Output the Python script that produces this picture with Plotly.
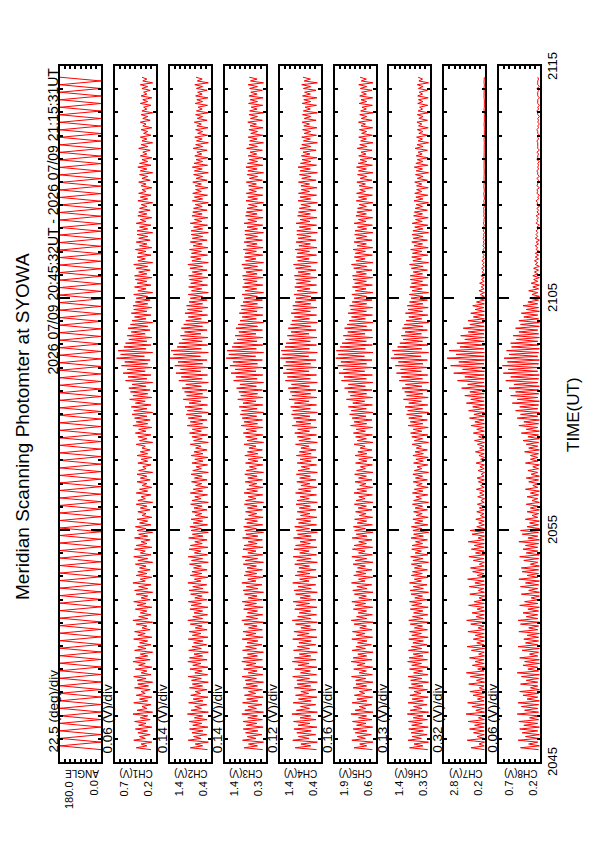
import numpy as np
import plotly.graph_objects as go

# ---------------- data ----------------
# time axis: minutes after 20:45 UT; record 20:45:32 - 21:15:31 UT
t_start_min = 32 / 60
t_end_min = 30 - 29 / 60

time_tick_vals = [0, 10, 20, 30]
time_tick_text = ["2045", "2055", "2105", "2115"]

panel_names = ["ANGLE", "CH1(V)", "CH2(V)", "CH3(V)", "CH4(V)", "CH5(V)", "CH6(V)", "CH7(V)", "CH8(V)"]
scale_labels = ["22.5 (deg)/div", "0.06 (V)/div", "0.14 (V)/div", "0.14 (V)/div", "0.12 (V)/div",
                "0.16 (V)/div", "0.13 (V)/div", "0.32 (V)/div", "0.06 (V)/div"]
range_max = [180.0, 0.7, 1.4, 1.4, 1.4, 1.9, 1.4, 2.8, 0.7]
range_min = [0.0, 0.2, 0.4, 0.3, 0.4, 0.6, 0.3, 0.2, 0.2]
range_max_text = ["180.0", "0.7", "1.4", "1.4", "1.4", "1.9", "1.4", "2.8", "0.7"]
range_min_text = ["0.0", "0.2", "0.4", "0.3", "0.4", "0.6", "0.3", "0.2", "0.2"]

# scan angle (deg), one value per half scan
ang_deg = [0, 180, 0, 180, 0, 180, 0, 180, 0, 180, 0, 180, 0, 180, 0, 180, 0, 180, 0, 180,
           0, 180, 0, 180, 0, 180, 0, 180, 0, 180, 0, 180, 0, 180, 0, 180, 0, 180, 0, 180,
           0, 180, 0, 180, 0, 180, 0, 180, 0, 180, 0, 180, 0, 180, 0, 180, 0, 180, 0, 180,
           0, 180, 0, 180, 0, 180, 0, 180, 0, 180, 0, 180, 0, 180, 0, 180, 0, 180, 0, 180,
           0, 180, 0, 180, 0, 180, 0, 180, 0, 180, 0, 180, 0, 180, 0, 180, 0, 180, 0, 180,
           0, 180, 0, 180, 0, 180, 0, 180, 0, 180, 0, 180, 0, 180, 0, 180, 0, 180, 0, 180,
           0, 180, 0, 180, 0, 180, 0, 180, 0, 180, 0, 180, 0, 180, 0, 180, 0, 180, 0, 180,
           0, 180, 0, 180, 0, 180, 0, 180, 0, 180, 0, 180, 0, 180, 0, 180, 0, 180, 0, 180,
           0, 180, 0, 180, 0, 180, 0, 180, 0, 180, 0, 180, 0, 180, 0, 180, 0, 180, 0, 180]

# photometer channels in centivolts (12 samples per minute, one row per minute)
ch1_cv = [26,44,31,38,25,47,33,40,27,42,30,45, 25,41,32,46,27,39,30,48,24,43,31,37,
          26,47,30,40,25,44,33,38,27,46,29,42, 24,43,32,47,26,38,31,45,25,41,33,48,
          27,45,30,39,24,46,32,42,26,40,30,47, 25,42,33,46,27,37,31,44,24,48,30,41,
          26,39,31,45,25,43,32,47,27,38,30,44, 24,46,30,41,26,48,33,39,25,44,31,42,
          27,40,32,45,24,42,30,47,26,39,33,46, 25,44,31,38,27,46,30,41,24,43,32,45,
          26,40,30,43,25,37,32,42,27,39,31,44, 24,42,33,38,26,44,30,40,25,37,31,43,
          27,39,31,43,24,41,32,36,26,42,30,38, 25,43,30,39,27,37,33,44,24,40,31,42,
          26,45,32,41,25,48,30,44,27,46,31,49, 24,47,31,50,26,45,33,52,25,48,30,51,
          27,53,32,49,24,57,31,54,26,60,33,55, 25,62,30,58,27,68,34,63,24,66,32,59,
          26,57,31,53,25,55,33,50,27,54,30,51, 24,49,32,46,26,50,31,47,25,48,30,45,
          27,44,30,47,24,42,32,46,26,43,31,45, 25,46,31,41,27,44,30,47,24,42,33,43,
          26,42,32,45,25,40,31,44,27,41,30,43, 24,43,30,40,26,44,32,39,25,42,31,41,
          27,40,31,38,24,42,30,39,26,41,32,37, 25,38,32,41,27,37,30,40,24,39,31,42,
          26,40,30,37,25,39,31,36,27,41,30,38, 24,37,31,39,26,35,30,38,25,36,32,39,
          27,36,30,38,24,37,31,35,26,39,30,36, 25,38,31,35,27,37,30,39,24,36,31,37]

ch2_cv = [48,90,60,78,46,95,64,82,50,86,59,92, 47,84,62,93,49,80,60,97,46,88,63,79,
          50,94,59,83,47,89,65,78,49,92,60,85, 46,87,63,95,48,79,61,91,47,84,64,96,
          49,92,60,81,46,94,63,86,50,82,59,95, 47,85,64,93,49,78,61,90,46,96,60,84,
          48,81,60,91,47,88,63,95,49,79,61,89, 46,93,59,84,50,96,64,80,47,90,62,86,
          49,82,63,92,46,87,60,95,48,80,64,93, 47,90,61,79,49,94,59,85,46,88,63,91,
          48,83,60,88,47,78,62,86,49,81,61,89, 46,86,64,79,48,90,60,83,47,77,62,87,
          49,80,61,88,46,84,63,76,48,86,59,79, 47,88,59,81,49,77,64,90,46,82,61,86,
          48,92,63,85,47,98,60,90,49,95,62,100, 46,97,61,103,48,93,64,107,47,99,60,104,
          49,110,63,101,46,118,61,112,48,125,64,114, 47,128,60,120,49,140,65,131,46,137,63,122,
          48,118,61,109,47,114,64,104,49,112,60,106, 46,101,63,95,48,103,61,97,47,99,60,93,
          49,90,60,95,46,87,62,94,48,89,61,92, 47,94,61,85,49,91,60,96,46,86,64,89,
          48,87,63,92,47,83,61,90,49,85,60,88, 46,88,60,82,48,90,62,80,47,86,61,84,
          49,82,61,78,46,85,60,80,48,84,63,77, 47,78,63,84,49,76,60,82,46,80,61,85,
          48,81,60,76,47,79,62,74,49,83,60,77, 46,75,61,79,48,72,60,77,47,74,63,80,
          49,73,60,77,46,75,61,71,48,78,60,74, 47,77,61,72,49,75,60,79,46,73,61,76]

ch3_cv = [38,88,52,76,36,92,56,80,40,84,51,90, 37,82,54,91,39,78,52,94,36,86,55,77,
          40,92,51,81,37,87,57,76,39,90,52,83, 36,85,55,93,38,77,53,89,37,82,56,94,
          39,90,52,79,36,92,55,84,40,80,51,93, 37,83,56,91,39,76,53,88,36,94,52,82,
          38,79,52,89,37,86,55,93,39,77,53,87, 36,91,51,82,40,94,56,78,37,88,54,84,
          39,80,55,90,36,85,52,93,38,78,56,91, 37,88,53,77,39,92,51,83,36,86,55,89,
          38,81,52,86,37,76,54,84,39,79,53,87, 36,84,56,77,38,88,52,81,37,75,54,85,
          39,78,53,86,36,82,55,74,38,84,51,77, 37,86,51,79,39,75,56,88,36,80,53,84,
          38,90,55,83,37,96,52,88,39,93,54,98, 36,95,53,101,38,91,56,105,37,97,52,102,
          39,108,55,99,36,116,53,110,38,123,56,112, 37,126,52,118,39,136,57,129,36,134,55,120,
          38,116,53,107,37,112,56,102,39,110,52,104, 36,99,55,93,38,101,53,95,37,97,52,91,
          39,88,52,93,36,85,54,92,38,87,53,90, 37,92,53,83,39,89,52,94,36,84,56,87,
          38,85,55,90,37,81,53,88,39,83,52,86, 36,86,52,80,38,88,54,78,37,84,53,82,
          39,80,53,76,36,83,52,78,38,82,55,75, 37,76,55,82,39,74,52,80,36,78,53,83,
          38,79,52,74,37,77,54,72,39,81,52,75, 36,73,53,77,38,70,52,75,37,72,55,78,
          39,71,52,75,36,73,53,69,38,76,52,72, 37,75,53,70,39,73,52,77,36,71,53,74]

ch4_cv = [50,102,64,88,48,108,68,94,52,98,63,105, 49,95,66,106,51,90,64,110,48,99,67,89,
          52,107,63,94,49,101,69,88,51,104,64,97, 48,98,67,108,50,89,65,103,49,95,68,109,
          51,104,64,92,48,106,67,97,52,93,63,108, 49,97,68,105,51,88,65,101,48,109,64,96,
          50,92,64,103,49,99,67,107,51,90,65,101, 48,105,63,95,52,108,68,91,49,102,66,97,
          51,93,67,103,48,98,64,107,50,91,68,105, 49,101,65,90,51,106,63,96,48,99,67,103,
          50,94,64,99,49,89,66,97,51,92,65,100, 48,97,68,90,50,101,64,94,49,88,66,98,
          51,91,65,99,48,95,67,87,50,97,63,90, 49,99,63,92,51,88,68,101,48,93,65,97,
          50,103,67,96,49,109,64,100,51,106,66,111, 48,108,65,113,50,104,68,117,49,110,64,114,
          51,119,67,111,48,126,65,121,50,131,68,123, 49,130,64,125,51,138,69,133,48,136,67,127,
          50,124,65,116,49,121,68,112,51,119,64,113, 48,110,67,104,50,112,65,106,49,108,64,102,
          51,100,64,105,48,97,66,103,50,99,65,101, 49,104,65,95,51,101,64,106,48,96,68,99,
          50,97,67,102,49,93,65,100,51,95,64,98, 48,98,64,92,50,100,66,90,49,96,65,94,
          51,92,65,88,48,95,64,90,50,94,67,87, 49,88,67,94,51,86,64,92,48,90,65,95,
          50,89,64,85,49,87,66,83,51,90,64,86, 48,82,65,86,50,80,64,84,49,81,67,85,
          51,80,64,84,48,82,65,78,50,85,64,81, 49,84,65,79,51,82,64,86,48,80,65,83]

ch5_cv = [70,128,88,110,68,135,92,118,73,124,87,131, 69,120,90,133,71,114,88,138,68,125,91,112,
          72,134,87,119,69,127,94,111,71,131,88,122, 68,123,91,136,70,112,89,129,69,118,93,137,
          71,131,88,116,68,134,92,122,73,117,87,135, 69,121,93,133,71,110,89,128,68,137,88,120,
          70,115,88,130,69,125,91,135,71,113,89,127, 68,132,87,119,72,136,93,114,69,129,90,122,
          71,117,92,131,68,124,88,135,70,114,93,133, 69,128,89,113,71,134,87,121,68,126,92,130,
          70,118,88,126,69,111,90,123,71,115,89,127, 68,122,93,113,70,128,88,119,69,110,90,125,
          71,114,89,126,68,120,92,108,70,123,87,113, 69,125,87,116,71,109,93,128,68,118,89,123,
          70,130,92,121,69,139,88,128,71,134,90,142, 68,137,89,146,70,132,94,152,69,140,88,147,
          71,158,92,146,68,168,89,160,70,176,94,162, 69,180,88,170,71,186,95,178,68,184,92,172,
          70,166,89,155,69,162,93,148,71,158,88,150, 68,144,92,136,70,147,89,139,69,142,88,134,
          71,128,88,135,68,124,90,133,70,126,89,131, 69,133,89,121,71,129,88,136,68,122,93,127,
          70,124,92,131,69,118,89,128,71,121,88,126, 68,125,88,117,70,128,90,114,69,122,89,119,
          71,117,89,112,68,121,88,114,70,120,92,110, 69,112,92,119,71,109,88,117,68,114,89,120,
          70,115,88,109,69,113,90,106,71,118,88,110, 68,107,89,113,70,104,88,111,69,106,92,114,
          71,105,88,110,68,107,89,103,70,112,88,106, 69,110,89,104,71,108,88,113,68,105,89,109]

ch6_cv = [37,86,50,74,35,90,54,79,39,82,49,88, 36,80,52,89,38,76,50,92,35,84,53,75,
          39,90,49,79,36,85,55,74,38,88,50,81, 35,83,53,90,37,75,51,86,36,80,54,91,
          38,87,50,76,35,89,53,81,39,77,49,88, 36,80,54,86,38,73,51,84,35,88,50,78,
          37,75,50,84,36,80,53,86,38,72,51,82, 35,84,49,76,39,86,54,73,36,81,52,78,
          38,73,53,81,35,77,50,83,37,71,54,80, 36,79,51,70,38,82,49,75,35,77,53,81,
          37,72,50,77,36,68,52,75,38,71,51,78, 35,75,54,69,37,78,50,73,36,67,52,76,
          38,70,51,77,35,73,53,66,37,75,49,69, 36,77,49,71,38,68,54,79,35,73,51,80,
          37,83,53,76,36,90,50,84,38,88,52,94, 35,91,51,98,37,88,54,102,36,94,50,99,
          38,106,53,97,35,114,51,108,37,121,54,110, 36,124,50,116,38,136,55,127,35,132,53,118,
          37,112,51,103,36,108,54,98,38,105,50,100, 35,95,53,88,37,97,51,90,36,92,50,86,
          38,82,50,87,35,79,52,85,37,81,51,84, 36,84,51,76,38,81,50,86,35,77,54,80,
          37,78,53,83,36,74,51,80,38,76,50,79, 35,77,50,72,37,79,52,70,36,75,51,73,
          38,71,51,68,35,74,50,69,37,72,53,67, 36,67,53,72,38,65,50,70,35,68,51,73,
          37,69,50,65,36,68,52,63,38,71,50,66, 35,63,51,67,37,61,50,65,36,62,53,66,
          38,61,50,65,35,63,51,59,37,64,50,62, 36,64,51,60,38,62,50,65,35,61,51,63]

ch7_cv = [26,110,27,60,25,135,28,72,26,95,27,120, 27,88,25,128,26,64,28,142,25,80,27,105,
          26,132,28,70,25,98,27,118,26,58,28,125, 25,76,27,115,26,140,28,68,25,102,27,85,
          28,120,26,62,27,108,25,136,28,74,26,96, 26,84,27,130,25,66,28,112,26,138,27,78,
          27,104,25,72,28,126,26,90,27,60,25,118, 26,64,28,122,25,86,27,132,26,70,28,100,
          25,114,27,58,26,96,28,124,25,82,27,108, 28,90,26,128,27,66,25,104,28,116,26,74,
          26,62,27,80,25,52,28,74,26,58,27,70, 27,48,25,68,28,56,26,76,27,50,25,64,
          26,72,28,46,25,66,27,54,26,78,28,50, 25,60,27,82,26,56,28,70,25,88,27,62,
          28,96,26,74,27,110,25,86,28,120,26,92, 26,126,27,100,25,140,28,112,26,150,27,118,
          27,170,25,132,28,196,26,150,27,220,25,164, 26,240,28,188,25,262,27,206,26,250,28,180,
          25,200,27,150,26,176,28,128,25,160,27,118, 28,130,26,96,27,112,25,84,28,100,26,76,
          26,66,27,52,25,60,28,46,26,56,27,44, 27,48,25,40,28,44,26,38,27,42,25,36,
          26,36,28,33,25,35,27,32,26,34,28,31, 25,33,27,30,26,32,28,29,25,31,27,30,
          28,31,26,29,27,30,25,28,28,30,26,28, 26,29,27,28,25,30,28,27,26,29,27,28,
          27,28,25,27,28,29,26,27,27,28,25,27, 26,28,28,26,25,27,27,26,26,28,28,26,
          25,27,27,26,26,28,28,26,25,27,27,26, 28,27,26,26,27,28,25,26,28,27,26,26]

ch8_cv = [22,44,21,34,23,47,22,38,21,42,23,45, 21,40,23,46,22,33,21,48,22,39,23,43,
          22,47,21,36,23,41,22,45,21,32,23,44, 23,37,22,43,21,48,22,35,23,41,21,39,
          21,45,23,33,22,42,21,47,23,38,22,40, 22,36,21,46,23,34,22,44,21,47,23,37,
          23,41,22,35,21,45,23,39,22,31,21,43, 21,34,23,44,22,38,21,46,23,36,22,42,
          22,43,21,32,23,40,22,45,21,37,23,41, 23,38,22,46,21,35,23,42,22,44,21,36,
          22,33,21,38,23,30,22,36,21,32,23,37, 21,30,23,36,22,32,21,38,23,29,22,34,
          22,37,21,31,23,35,22,29,21,38,23,32, 23,32,22,39,21,34,23,37,22,41,21,35,
          22,43,21,37,23,46,22,40,21,48,23,44, 21,50,23,45,22,54,21,48,23,56,22,50,
          22,58,21,52,23,62,22,56,21,65,23,59, 23,66,22,60,21,64,23,58,22,61,21,55,
          22,56,23,49,21,53,22,46,23,50,21,44, 21,46,22,40,23,43,21,37,22,41,23,35,
          22,33,21,30,23,34,22,29,21,31,23,28, 21,29,23,27,22,28,21,26,23,27,22,26,
          22,26,21,25,23,26,22,25,21,26,23,25, 23,25,22,24,21,25,23,24,22,25,21,24,
          22,24,21,24,23,25,22,23,21,24,23,24, 21,24,23,23,22,24,21,23,23,24,22,23,
          22,23,21,24,23,23,22,24,21,23,23,23, 23,24,22,23,21,23,23,24,22,23,21,23,
          22,23,21,23,23,24,22,23,21,23,23,23, 21,23,23,23,22,24,21,23,23,23,22,23]

channels_cv = [ch1_cv, ch2_cv, ch3_cv, ch4_cv, ch5_cv, ch6_cv, ch7_cv, ch8_cv]
series = [np.asarray(ang_deg, dtype=float)] + [np.asarray(c, dtype=float) / 100.0 for c in channels_cv]
times = [np.linspace(t_start_min, t_end_min, len(s)) for s in series]

# ---------------- layout ----------------
PAGE_OFF = 8.0  # default page body margin
W, H = 595 - PAGE_OFF, 842 - PAGE_OFF
FONT = "Liberation Sans, Arial, Helvetica, sans-serif"


def px(xp):
    return (xp - PAGE_OFF) / W


def py(yp):
    return 1 - (yp - PAGE_OFF) / H


left0, step, pw = 60.0, 54.9, 41.0
top_px, bot_px = 66.0, 762.0
ydom = [py(bot_px), py(top_px)]

fig = go.Figure()
annotations = []
layout_axes = {}
for i, vals in enumerate(series):
    n = i + 1
    xa = "x" if n == 1 else f"x{n}"
    ya = "y" if n == 1 else f"y{n}"
    xname = "xaxis" if n == 1 else f"xaxis{n}"
    yname = "yaxis" if n == 1 else f"yaxis{n}"
    fig.add_trace(go.Scatter(x=vals, y=times[i], xaxis=xa, yaxis=ya, mode="lines",
                             line=dict(color="#ff0000", width=1),
                             hoverinfo="skip", showlegend=False))
    L = left0 + i * step
    span = range_max[i] - range_min[i]
    layout_axes[xname] = dict(domain=[px(L), px(L + pw)], range=[range_max[i], range_min[i]],
                              anchor=ya, showgrid=False, zeroline=False, showline=True,
                              mirror="ticks", linecolor="black", linewidth=2,
                              ticks="inside", ticklen=3, tickwidth=1.5, tickcolor="black",
                              tickmode="linear", tick0=range_min[i], dtick=span / 8,
                              showticklabels=False, fixedrange=True)
    layout_axes[yname] = dict(domain=ydom, range=[0, 30], anchor=xa, showgrid=False,
                              zeroline=False, showline=True, mirror="ticks",
                              linecolor="black", linewidth=2, ticks="inside", ticklen=10,
                              tickwidth=2, tickcolor="black", tickmode="array",
                              tickvals=time_tick_vals, showticklabels=False,
                              minor=dict(dtick=1, tick0=0, ticks="inside", ticklen=3,
                                         tickwidth=2, tickcolor="black"),
                              fixedrange=True)
    annotations.append(dict(text=scale_labels[i], xref="paper", yref="paper",
                            x=px(L - 7), y=py(755), textangle=-90,
                            xanchor="center", yanchor="bottom", showarrow=False,
                            font=dict(size=13.5, color="black", family=FONT)))
    annotations.append(dict(text=panel_names[i], xref="paper", yref="paper",
                            x=px(L + 3), y=py(766), textangle=180,
                            xanchor="left", yanchor="top", showarrow=False,
                            font=dict(size=10, color="black", family=FONT)))
    annotations.append(dict(text=range_max_text[i], xref="paper", yref="paper",
                            x=px(L + 1), y=py(779), textangle=-90,
                            xanchor="left", yanchor="top", showarrow=False,
                            font=dict(size=11, color="black", family=FONT)))
    annotations.append(dict(text=range_min_text[i], xref="paper", yref="paper",
                            x=px(L + pw), y=py(779), textangle=-90,
                            xanchor="right", yanchor="top", showarrow=False,
                            font=dict(size=11, color="black", family=FONT)))

for v, txt in zip(time_tick_vals, time_tick_text):
    annotations.append(dict(text=txt, xref="paper", yref="y9", x=px(552), y=v,
                            textangle=-90, xanchor="center", yanchor="middle",
                            showarrow=False, font=dict(size=13, color="black", family=FONT)))

annotations.append(dict(text="TIME(UT)", xref="paper", yref="paper", x=px(573), y=py(415),
                        textangle=-90, xanchor="center", yanchor="middle", showarrow=False,
                        font=dict(size=17, color="black", family=FONT)))
annotations.append(dict(text="Meridian Scanning Photomter at SYOWA", xref="paper", yref="paper",
                        x=px(22), y=py(427), textangle=-90, xanchor="center",
                        yanchor="middle", showarrow=False,
                        font=dict(size=19, color="black", family=FONT)))
annotations.append(dict(text="2026 07/09 20:45:32UT - 2026 07/09 21:15:31UT", xref="paper",
                        yref="paper", x=px(52), y=py(66), textangle=-90,
                        xanchor="center", yanchor="top", showarrow=False,
                        font=dict(size=14, color="black", family=FONT)))

fig.update_layout(width=W, height=H, margin=dict(l=0, r=0, t=0, b=0),
                  paper_bgcolor="white", plot_bgcolor="white",
                  annotations=annotations, **layout_axes)

fig.write_html("out.html", config={"displayModeBar": False})
